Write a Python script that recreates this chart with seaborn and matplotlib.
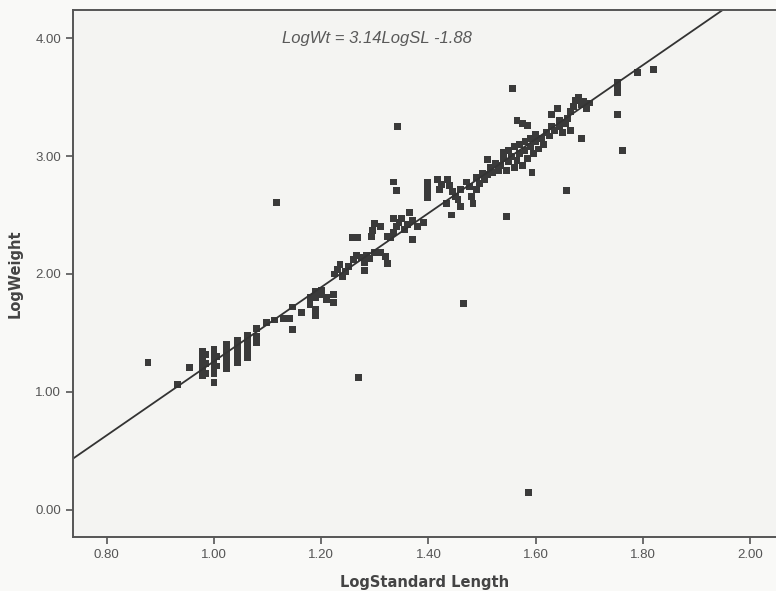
import numpy as np
import pandas as pd
import matplotlib
matplotlib.use("Agg")
import matplotlib.pyplot as plt
import seaborn as sns

############################################################
##### Data
############################################################

log_sl = [
    0.877, 0.932, 0.955,
    0.979, 0.979, 0.979, 0.979, 0.979, 0.979, 0.985, 0.985, 0.985,
    1.000, 1.000, 1.000, 1.000, 1.000, 1.000, 1.000, 1.004, 1.004,
    1.024, 1.024, 1.024, 1.024, 1.024, 1.024,
    1.043, 1.043, 1.043, 1.043, 1.043, 1.043,
    1.063, 1.063, 1.063, 1.063, 1.063, 1.063,
    1.080, 1.080, 1.080, 1.098, 1.113, 1.129, 1.140, 1.147, 1.147, 1.164,
    1.179, 1.179, 1.190, 1.190, 1.190, 1.190, 1.200, 1.200, 1.210, 1.210,
    1.222, 1.222,
    1.225, 1.230, 1.235, 1.245, 1.250, 1.240,
    1.260, 1.265, 1.275, 1.280, 1.285, 1.281, 1.290,
    1.300, 1.310, 1.324, 1.320,
    1.259, 1.268, 1.294, 1.324, 1.330,
    1.296, 1.300, 1.310,
    1.334, 1.340, 1.345, 1.350, 1.355, 1.360, 1.334,
    1.365, 1.370, 1.371, 1.390, 1.380,
    1.334, 1.340, 1.117, 1.343, 1.270,
    1.399, 1.399, 1.399, 1.399,
    1.416, 1.425, 1.435, 1.420,
    1.440, 1.445, 1.450, 1.455, 1.460, 1.434, 1.443, 1.459,
    1.477, 1.480, 1.483, 1.470,
    1.490, 1.495, 1.500, 1.505, 1.490,
    1.510, 1.515, 1.520, 1.525, 1.530, 1.510,
    1.546, 1.466, 1.587,
    1.535, 1.540, 1.540, 1.545, 1.550, 1.550, 1.555, 1.560, 1.560, 1.565,
    1.570, 1.570, 1.575, 1.580, 1.580, 1.585, 1.590, 1.590, 1.595, 1.600,
    1.600, 1.605, 1.610, 1.615, 1.620, 1.593, 1.565, 1.575, 1.584,
    1.625, 1.630, 1.635, 1.645, 1.650, 1.655, 1.664,
    1.630, 1.640, 1.645,
    1.660, 1.665, 1.670, 1.675, 1.680, 1.685, 1.690, 1.695, 1.700,
    1.686, 1.658, 1.557,
    1.753, 1.753, 1.753, 1.753, 1.761, 1.789, 1.819,
]

log_wt = [
    1.25, 1.06, 1.21,
    1.14, 1.18, 1.22, 1.26, 1.30, 1.34, 1.16, 1.24, 1.32,
    1.08, 1.16, 1.20, 1.24, 1.28, 1.32, 1.36, 1.22, 1.30,
    1.20, 1.24, 1.28, 1.32, 1.36, 1.40,
    1.25, 1.29, 1.33, 1.37, 1.41, 1.44,
    1.29, 1.33, 1.37, 1.41, 1.45, 1.48,
    1.42, 1.47, 1.54, 1.59, 1.61, 1.62, 1.62, 1.72, 1.53, 1.67,
    1.74, 1.80, 1.65, 1.70, 1.85, 1.80, 1.83, 1.86, 1.80, 1.78,
    1.76, 1.83,
    2.00, 2.04, 2.08, 2.02, 2.06, 1.98,
    2.12, 2.16, 2.14, 2.10, 2.16, 2.03, 2.13,
    2.18, 2.18, 2.09, 2.15,
    2.31, 2.31, 2.32, 2.32, 2.31,
    2.37, 2.43, 2.40,
    2.35, 2.40, 2.44, 2.47, 2.38, 2.42, 2.47,
    2.52, 2.45, 2.29, 2.44, 2.40,
    2.78, 2.71, 2.61, 3.25, 1.12,
    2.65, 2.70, 2.74, 2.78,
    2.80, 2.76, 2.80, 2.72,
    2.75, 2.70, 2.66, 2.63, 2.72, 2.60, 2.50, 2.57,
    2.74, 2.66, 2.60, 2.78,
    2.82, 2.77, 2.85, 2.80, 2.72,
    2.97, 2.90, 2.86, 2.94, 2.88, 2.84,
    2.49, 1.75, 0.15,
    2.92, 2.98, 3.03, 2.88, 2.95, 3.05, 3.00, 2.90, 3.08, 2.96,
    3.02, 3.10, 2.92, 3.05, 3.12, 2.98, 3.08, 3.15, 3.02, 3.12,
    3.18, 3.06, 3.15, 3.10, 3.20, 2.86, 3.30, 3.28, 3.26,
    3.17, 3.25, 3.22, 3.25, 3.20, 3.28, 3.22,
    3.35, 3.40, 3.30,
    3.32, 3.38, 3.42, 3.47, 3.50, 3.44, 3.46, 3.40, 3.45,
    3.15, 2.71, 3.57,
    3.62, 3.58, 3.54, 3.35, 3.05, 3.71, 3.73,
]

# fitted line LogWt = 3.14 LogSL - 1.88
fit_slope = 3.14
fit_intercept = -1.88
fit_label = "LogWt = 3.14LogSL -1.88"

x_ticks = [0.80, 1.00, 1.20, 1.40, 1.60, 1.80, 2.00]
y_ticks = [0.00, 1.00, 2.00, 3.00, 4.00]

############################################################
##### Plot
############################################################

df = pd.DataFrame({"LogSL": log_sl, "LogWt": log_wt})

sns.set_style("ticks")
plt.rcParams["font.family"] = ["Liberation Sans", "DejaVu Sans"]

fig = plt.figure(figsize=(7.76, 5.91), dpi=100, facecolor="#f9f9f7")
ax = fig.add_axes([0.094, 0.0914, 0.906, 0.892])
ax.set_facecolor("#f4f4f2")

sns.scatterplot(
    data=df,
    x="LogSL",
    y="LogWt",
    marker="s",
    s=25,
    color="#3a3a3a",
    edgecolor="none",
    linewidth=0,
    ax=ax,
)

# regression line
ax.axline((0, fit_intercept), slope=fit_slope, color="#333333", lw=1.3, zorder=1)

ax.text(1.126, 4.0, fit_label, style="italic", fontsize=12, color="#595959",
        ha="left", va="center")

ax.set_xlim(0.737, 2.048)
ax.set_ylim(-0.23, 4.24)
ax.set_xticks(x_ticks)
ax.set_yticks(y_ticks)
ax.set_xticklabels([f"{t:.2f}" for t in x_ticks])
ax.set_yticklabels([f"{t:.2f}" for t in y_ticks])
ax.tick_params(axis="both", labelsize=9.5, colors="#555555", length=5, width=1.2)

for side in ["left", "bottom", "top"]:
    ax.spines[side].set_color("#555555")
    ax.spines[side].set_linewidth(1.4)
    ax.spines[side].set_visible(True)
ax.spines["right"].set_visible(False)

ax.set_xlabel("LogStandard Length", fontsize=10.5, fontweight="bold", color="#444444",
              family="DejaVu Sans", labelpad=10)
ax.set_ylabel("LogWeight", fontsize=10.5, fontweight="bold", color="#444444",
              family="DejaVu Sans", labelpad=9)

fig.savefig("out.png", dpi=100, facecolor=fig.get_facecolor())
